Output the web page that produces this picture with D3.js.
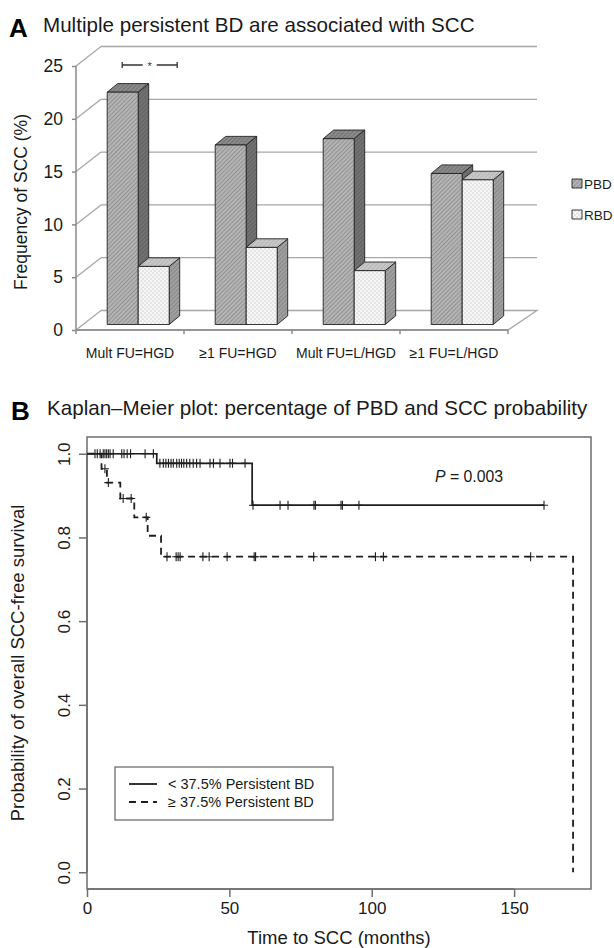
<!DOCTYPE html>
<html lang="en">
<head>
  <meta charset="UTF-8">
  <title>PBD and SCC</title>
  <script src="https://d3js.org/d3.v7.min.js"></script>
  <style>
    body { margin: 0; background: #fff; }
    svg { font-family: "Liberation Sans", Arial, Helvetica, sans-serif; }
    .grid { stroke: #a6a6a6; stroke-width: 1.3; fill: none; }
    .axis3d { stroke: #8a8a8a; stroke-width: 1.5; fill: none; }
    .face { stroke: #222; stroke-width: 0.9; stroke-linejoin: round; }
    .km { fill: none; stroke: #1e1e1e; }
    .cens { stroke: #1e1e1e; stroke-width: 1.1; }
  </style>
</head>
<body>
<svg width="614" height="948"></svg>
<script>
  // ---- panel A data ----
  const categories = ['Mult FU=HGD', '\u22651 FU=HGD', 'Mult FU=L/HGD', '\u22651 FU=L/HGD'];
  const series = ['PBD', 'RBD'];
  const pbdValues = [22.0, 17.0, 17.6, 14.3];
  const rbdValues = [5.5, 7.3, 5.1, 13.7];
  const freqTicks = [0, 5, 10, 15, 20, 25];

  // ---- panel B data ----
  const lowTime = [0, 24.5, 58, 160.5];
  const lowSurv = [1, 0.977, 0.877, 0.877];
  const lowCensor = [2.8, 3.6, 4.6, 5.7, 6.3, 6.9, 7.5, 8.1, 9.2, 12.2, 13, 14.1, 15.3, 20.4, 23.3,
    25.6, 26.8, 27.7, 28.6, 29.5, 30.3, 31.5, 32.4, 33.2, 34, 35, 36.1, 37.3, 38.5, 39.7, 43.2, 44.4,
    46.7, 50.2, 51.1, 55.5, 58.3, 67.8, 70.6, 79.7, 80.2, 89.2, 89.7, 95.5, 160.5];
  const highTime = [0, 5.1, 7, 11.7, 16.6, 21.3, 26, 170.7];
  const highSurv = [1, 0.964, 0.931, 0.893, 0.848, 0.804, 0.754, 0];
  const highCensor = [6.3, 7.5, 12.7, 15.5, 20.8, 28.1, 31.3, 32, 32.7, 40.7, 42.9, 49.2, 58.7, 59.2,
    79.6, 101.3, 104.1, 155.8];
  const timeTicks = [0, 50, 100, 150];
  const probTicks = [0, 0.2, 0.4, 0.6, 0.8, 1.0];
  const legendLabels = ['< 37.5% Persistent BD', '\u2265 37.5% Persistent BD'];

  const svg = d3.select('svg');
  const defs = svg.append('defs');

  function hatch(id, bg, fg, size) {
    const p = defs.append('pattern').attr('id', id)
      .attr('patternUnits', 'userSpaceOnUse')
      .attr('width', size).attr('height', size)
      .attr('patternTransform', 'rotate(45)');
    p.append('rect').attr('width', size).attr('height', size).attr('fill', bg);
    p.append('line').attr('x1', 0).attr('y1', 0).attr('x2', 0).attr('y2', size)
      .attr('stroke', fg).attr('stroke-width', 1.2);
  }
  hatch('pbdFront', '#b4b4b4', '#7c7c7c', 3);
  hatch('pbdTop', '#8a8a8a', '#626262', 3);
  hatch('pbdSide', '#727272', '#555', 3);
  hatch('rbdSide', '#a0a0a0', '#777', 3);
  hatch('rbdTop', '#c8c8c8', '#aaa', 3);

  const dots = defs.append('pattern').attr('id', 'rbdFront')
    .attr('patternUnits', 'userSpaceOnUse').attr('width', 4).attr('height', 4);
  dots.append('rect').attr('width', 4).attr('height', 4).attr('fill', '#f6f6f6');
  dots.append('circle').attr('cx', 1).attr('cy', 1).attr('r', 0.6).attr('fill', '#a8a8a8');
  dots.append('circle').attr('cx', 3).attr('cy', 3).attr('r', 0.6).attr('fill', '#a8a8a8');

  const fills = {
    PBD: { front: 'url(#pbdFront)', top: 'url(#pbdTop)', side: 'url(#pbdSide)' },
    RBD: { front: 'url(#rbdFront)', top: 'url(#rbdTop)', side: 'url(#rbdSide)' }
  };

  // ================= panel A =================
  const depth = { dx: 25, dy: -19.5 };
  const barOff = { dx: 6.7, dy: -5.5 };   // bar front sits a bit into the floor
  const barDepth = { dx: 10.5, dy: -8.6 };

  const x0 = d3.scaleBand().domain(categories).range([76, 508]);
  const x1 = d3.scaleBand().domain(series).range([24.5, 86.5]);
  const yA = d3.scaleLinear().domain([0, 25]).range([330, 66]);

  const gA = svg.append('g');

  // left wall diagonals + back wall grid
  freqTicks.forEach(v => {
    gA.append('line').attr('class', 'grid')
      .attr('x1', 76).attr('y1', yA(v))
      .attr('x2', 76 + depth.dx).attr('y2', yA(v) + depth.dy);
    if (v > 0) {
      gA.append('line').attr('class', 'grid')
        .attr('x1', 76 + depth.dx).attr('y1', yA(v) + depth.dy)
        .attr('x2', 508 + depth.dx + 4).attr('y2', yA(v) + depth.dy);
    }
  });
  // floor
  gA.append('path').attr('class', 'grid')
    .attr('d', `M76,${yA(0)}L${508},${yA(0)}L${508 + depth.dx + 4},${yA(0) + depth.dy}L${76 + depth.dx},${yA(0) + depth.dy}`);

  // axes
  const axY = d3.axisLeft(yA).tickValues(freqTicks).tickSize(4).tickPadding(9);
  const gy = gA.append('g').attr('transform', 'translate(76,0)').call(axY);
  gy.selectAll('path, line').attr('stroke', '#8a8a8a').attr('stroke-width', 1.5);
  gy.select('.domain').attr('d', `M0,${yA(25)}V${yA(0)}`);
  gy.selectAll('text').attr('font-size', 17.5).attr('fill', '#1a1a1a')
    .attr('font-family', '"Liberation Sans", Arial, sans-serif');

  const boundaries = categories.map(c => x0(c)).concat([508]);
  boundaries.forEach(b => {
    gA.append('line').attr('class', 'axis3d')
      .attr('x1', b).attr('y1', yA(0)).attr('x2', b).attr('y2', yA(0) + 4);
  });
  gA.append('line').attr('class', 'axis3d')
    .attr('x1', 76).attr('y1', yA(0)).attr('x2', 508).attr('y2', yA(0));

  // bars
  const barData = [];
  categories.forEach((c, i) => {
    barData.push({ cat: c, s: 'PBD', v: pbdValues[i] });
    barData.push({ cat: c, s: 'RBD', v: rbdValues[i] });
  });
  const bw = x1.bandwidth();
  barData.forEach(d => {
    const bx = x0(d.cat) + x1(d.s) + barOff.dx;
    const ty = yA(d.v) + barOff.dy;
    const by = yA(0) + barOff.dy;
    const g = gA.append('g');
    g.append('path').attr('class', 'face').attr('fill', fills[d.s].side)
      .attr('d', `M${bx + bw},${ty}L${bx + bw + barDepth.dx},${ty + barDepth.dy}L${bx + bw + barDepth.dx},${by + barDepth.dy}L${bx + bw},${by}Z`);
    g.append('path').attr('class', 'face').attr('fill', fills[d.s].top)
      .attr('d', `M${bx},${ty}L${bx + bw},${ty}L${bx + bw + barDepth.dx},${ty + barDepth.dy}L${bx + barDepth.dx},${ty + barDepth.dy}Z`);
    g.append('rect').attr('class', 'face').attr('fill', fills[d.s].front)
      .attr('x', bx).attr('y', ty).attr('width', bw).attr('height', by - ty);
  });

  // category labels
  categories.forEach(c => {
    gA.append('text').attr('x', x0(c) + x0.bandwidth() / 2).attr('y', 358)
      .attr('text-anchor', 'middle').attr('font-size', 14).attr('fill', '#1a1a1a').text(c);
  });

  // significance bracket
  const bl = x0(categories[0]) + x1('PBD') + bw / 2 + barOff.dx - 0.5;
  const br = x0(categories[0]) + x1('RBD') + bw + barOff.dx + 8;
  const by0 = yA(25) - 1;
  const mid = (bl + br) / 2;
  gA.append('path').attr('stroke', '#333').attr('stroke-width', 1.3).attr('fill', 'none')
    .attr('d', `M${bl},${by0 - 3}V${by0 + 3}M${bl},${by0}H${mid - 7}M${mid + 7},${by0}H${br}M${br},${by0 - 3}V${by0 + 3}`);
  gA.append('text').attr('x', mid).attr('y', by0 + 5).attr('text-anchor', 'middle')
    .attr('font-size', 11).attr('fill', '#333').text('*');

  // legend A
  series.forEach((s, i) => {
    const ly = 179 + i * 31;
    gA.append('rect').attr('class', 'face').attr('fill', fills[s].front)
      .attr('x', 572).attr('y', ly).attr('width', 10).attr('height', 9);
    gA.append('text').attr('x', 584).attr('y', ly + 9.5).attr('font-size', 13.5)
      .attr('fill', '#1a1a1a').text(s);
  });

  // titles / labels A
  svg.append('text').attr('x', 9).attr('y', 37).attr('font-size', 26).attr('font-weight', 'bold').text('A');
  svg.append('text').attr('x', 43).attr('y', 32).attr('font-size', 20.6).attr('fill', '#1a1a1a')
    .text('Multiple persistent BD are associated with SCC');
  svg.append('text').attr('transform', 'translate(27,202) rotate(-90)').attr('text-anchor', 'middle')
    .attr('font-size', 17.5).attr('fill', '#1a1a1a').text('Frequency of SCC (%)');

  // ================= panel B =================
  const xB = d3.scaleLinear().domain([0, 177]).range([87, 591]);
  const yB = d3.scaleLinear().domain([-0.04, 1.04]).range([889, 437]);
  const gB = svg.append('g');

  gB.append('rect').attr('x', 87).attr('y', 437).attr('width', 504).attr('height', 452)
    .attr('fill', 'none').attr('stroke', '#6e6e6e').attr('stroke-width', 1.5);

  const axXB = gB.append('g').attr('transform', 'translate(0,889)')
    .call(d3.axisBottom(xB).tickValues(timeTicks).tickSize(8).tickPadding(5).tickFormat(d3.format('d')));
  axXB.select('.domain').attr('d', `M${xB(0)},0H${xB(150)}`);
  axXB.selectAll('path, line').attr('stroke', '#6e6e6e').attr('stroke-width', 1.5);
  axXB.selectAll('text').attr('font-size', 17).attr('fill', '#1a1a1a')
    .attr('font-family', '"Liberation Sans", Arial, sans-serif');

  const axYB = gB.append('g').attr('transform', 'translate(87,0)')
    .call(d3.axisLeft(yB).tickValues(probTicks).tickSize(8).tickFormat(d3.format('.1f')));
  axYB.select('.domain').attr('d', `M0,${yB(0)}V${yB(1)}`);
  axYB.selectAll('path, line').attr('stroke', '#6e6e6e').attr('stroke-width', 1.5);
  // R style: labels parallel to the axis
  axYB.selectAll('text').attr('font-size', 17).attr('fill', '#1a1a1a')
    .attr('font-family', '"Liberation Sans", Arial, sans-serif')
    .attr('text-anchor', 'middle').attr('transform', 'rotate(-90)')
    .attr('x', 0).attr('y', -17).attr('dy', 0);

  const step = d3.line().curve(d3.curveStepAfter).x(d => xB(d[0])).y(d => yB(d[1]));
  gB.append('path').attr('class', 'km').attr('stroke-width', 1.7)
    .attr('d', step(d3.zip(lowTime, lowSurv)));
  gB.append('path').attr('class', 'km').attr('stroke-width', 1.8).attr('stroke-dasharray', '7,5')
    .attr('d', step(d3.zip(highTime, highSurv)));

  function survAt(times, surv, t) {
    const i = d3.bisectRight(times, t) - 1;
    return surv[Math.max(0, i)];
  }
  function plus(t, s) {
    const cx = xB(t), cy = yB(s);
    gB.append('path').attr('class', 'cens')
      .attr('d', `M${cx - 4},${cy}H${cx + 4}M${cx},${cy - 4.5}V${cy + 4.5}`);
  }
  lowCensor.forEach(t => plus(t, survAt(lowTime, lowSurv, t)));
  highCensor.forEach(t => plus(t, survAt(highTime, highSurv, t)));

  // P value
  const pt = gB.append('text').attr('x', 435).attr('y', 482).attr('font-size', 15.8).attr('fill', '#1a1a1a');
  pt.append('tspan').attr('font-style', 'italic').text('P');
  pt.append('tspan').text(' = 0.003');

  // legend B
  gB.append('rect').attr('x', 115).attr('y', 767).attr('width', 218).attr('height', 53)
    .attr('fill', '#fff').attr('stroke', '#6e6e6e').attr('stroke-width', 1.3);
  legendLabels.forEach((l, i) => {
    const ly = 784 + i * 18;
    gB.append('line').attr('x1', 129).attr('x2', 157).attr('y1', ly).attr('y2', ly)
      .attr('stroke', '#1e1e1e').attr('stroke-width', 1.8)
      .attr('stroke-dasharray', i === 1 ? '7,5' : null);
    gB.append('text').attr('x', 168).attr('y', ly + 5).attr('font-size', 14.5)
      .attr('fill', '#1a1a1a').text(l);
  });

  // titles / labels B
  svg.append('text').attr('x', 11).attr('y', 420).attr('font-size', 26).attr('font-weight', 'bold').text('B');
  svg.append('text').attr('x', 47).attr('y', 415).attr('font-size', 20.6).attr('fill', '#1a1a1a')
    .text('Kaplan\u2013Meier plot: percentage of PBD and SCC probability');
  svg.append('text').attr('transform', 'translate(24,663) rotate(-90)').attr('text-anchor', 'middle')
    .attr('font-size', 18.5).attr('fill', '#1a1a1a').text('Probability of overall SCC-free survival');
  svg.append('text').attr('x', 339).attr('y', 944).attr('text-anchor', 'middle')
    .attr('font-size', 18.5).attr('fill', '#1a1a1a').text('Time to SCC (months)');
</script>
</body>
</html>
